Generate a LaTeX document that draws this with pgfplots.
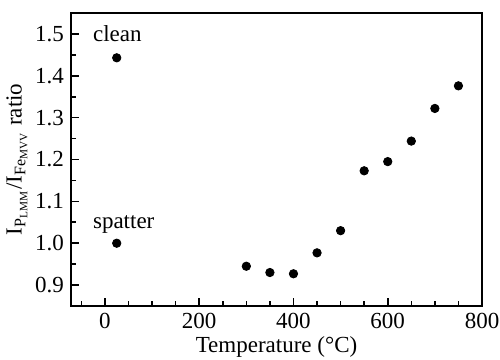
\documentclass[border=0pt]{standalone}
\usepackage{pgfplots}
\pgfplotsset{compat=1.18}
\usepackage{fontspec}
\setmainfont{Liberation Serif}

\begin{document}
\begin{tikzpicture}[x=1pt,y=1pt]
\useasboundingbox (-35.5,-27) rectangle (214.5,153);
\begin{axis}[
  at={(0,0)}, anchor=south west,
  scale only axis,
  width=205.5pt, height=146.5pt,
  xmin=-72, xmax=800,
  ymin=0.85, ymax=1.55,
  xtick={0,200,400,600,800},
  minor xtick={-50,50,100,150,250,300,350,450,500,550,650,700,750},
  ytick={0.9,1.0,1.1,1.2,1.3,1.4,1.5},
  minor ytick={0.95,1.05,1.15,1.25,1.35,1.45},
  yticklabel style={/pgf/number format/.cd,fixed,fixed zerofill,precision=1},
  xtick pos=bottom, ytick pos=left,
  tick align=inside,
  major tick length=4pt, minor tick length=2.5pt,
  every tick/.style={line width=0.8pt,black},
  axis line style={line width=1pt},
  /pgf/number format/assume math mode=true,
  tick label style={font=\fontsize{11.5}{13.5}\selectfont},
  label style={font=\fontsize{11.5}{13.5}\selectfont},
  xlabel={Temperature (°C)},
  ylabel={I\textsubscript{P\textsubscript{LMM}}/I\textsubscript{Fe\textsubscript{MVV}} ratio},
  xlabel style={yshift=3pt},
  ylabel style={yshift=-3pt},
  clip=false,
]
% reference samples at room temperature
\addplot[only marks, mark=*, mark size=2.1pt, black] coordinates {
  (25,1.443) (25,1.000)
};
% annealed samples
\addplot[only marks, mark=*, mark size=2.1pt, black] coordinates {
  (300,0.945) (350,0.930) (400,0.927) (450,0.977) (500,1.030)
  (550,1.173) (600,1.195) (650,1.244) (700,1.322) (750,1.376)
};
\node[anchor=west, inner sep=0pt, font=\fontsize{11.5}{13.5}\selectfont] at (axis cs:-26,1.5) {clean};
\node[anchor=west, inner sep=0pt, font=\fontsize{11.5}{13.5}\selectfont] at (axis cs:-26,1.045) {spatter};
\end{axis}
\end{tikzpicture}
\end{document}
